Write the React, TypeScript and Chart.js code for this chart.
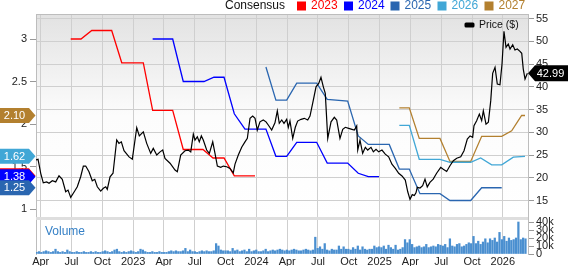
import React, { useEffect, useRef } from 'react';
import { Chart, registerables } from 'chart.js';

Chart.register(...registerables);

const FONT = '"Liberation Sans", Arial, Helvetica, sans-serif';

// x values are months counted from Jan 2022 (0 = 1 Jan 2022)
const xTickMonths = [3, 6, 9, 12, 15, 18, 21, 24, 27, 30, 33, 36, 39, 42, 45, 48];
const xTickLabels = ['Apr', 'Jul', 'Oct', '2023', 'Apr', 'Jul', 'Oct', '2024', 'Apr', 'Jul', 'Oct', '2025', 'Apr', 'Jul', 'Oct', '2026'];
const epsTicks = [1, 1.5, 2, 2.5, 3];
const priceTicks = [15, 20, 25, 30, 35, 40, 45, 50, 55];
const volumeTicks = [0, 10, 20, 30, 40];

const priceMonths = [
  2.51, 2.74, 3.0, 3.25, 3.58, 3.81, 4.13, 4.46, 4.78, 5.1,
  5.43, 5.66, 5.92, 6.31, 6.56, 6.89, 7.15, 7.38, 7.7, 8.02,
  8.26, 8.51, 8.84, 9.1, 9.33, 9.48, 9.75, 10.04, 10.4, 10.62,
  10.85, 11.11, 11.6, 11.92, 12.35, 12.6, 12.99, 13.32, 13.71, 13.96,
  14.3, 14.62, 14.88, 15.1, 15.59, 16.08, 16.3, 16.63, 17.05, 17.37,
  17.61, 17.86, 18.02, 18.25, 18.44, 18.64, 18.83, 19.16, 19.42, 19.75,
  19.97, 20.2, 20.53, 20.78, 21.11, 21.43, 21.75, 21.92, 22.24, 22.57,
  22.89, 23.12, 23.38, 23.64, 23.87, 24.09, 24.35, 24.67, 24.94, 25.16,
  25.49, 25.81, 26.04, 26.23, 26.47, 26.69, 26.95, 27.11, 27.27, 27.54,
  27.79, 28.02, 28.35, 28.67, 29.0, 29.22, 29.48, 29.81, 30.07, 30.29,
  30.52, 30.71, 30.95, 31.27, 31.59, 31.82, 32.14, 32.41, 32.66, 32.99,
  33.31, 33.54, 33.77, 33.87, 34.09, 34.35, 34.61, 34.84, 35.16, 35.39,
  35.65, 35.91, 36.23, 36.55, 36.88, 37.2, 37.53, 37.86, 38.18, 38.5,
  38.74, 38.96, 39.18, 39.38, 39.54, 39.67, 39.93, 40.19, 40.42, 40.64,
  40.9, 41.22, 41.55, 41.95, 42.2, 42.53, 42.85, 43.18, 43.51, 43.9,
  44.22, 44.54, 44.81, 45.06, 45.19, 45.45, 45.71, 45.94, 46.1, 46.36,
  46.59, 46.82, 47.01, 47.24, 47.46, 47.72, 47.92, 48.11, 48.31, 48.53,
  48.7, 48.96, 49.18, 49.41, 49.67, 49.84, 49.99, 50.16, 50.39,
];
const priceValues = [
  23.9, 24.05, 20.98, 18.9, 19.1, 18.8, 19.35, 19.1, 20.45, 19.66,
  16.93, 17.3, 15.7, 17.1, 18.03, 20.23, 22.58, 22.58, 21.33, 19.35,
  19.66, 18.03, 17.09, 17.7, 18.03, 17.46, 20.2, 21.0, 28.3, 27.57,
  27.9, 25.95, 24.6, 24.1, 31.0, 29.2, 30.1, 27.57, 25.37, 26.47,
  25.0, 25.7, 26.1, 24.27, 23.2, 21.7, 21.33, 25.0, 25.95, 26.1,
  25.7, 29.6, 28.3, 29.0, 27.9, 29.2, 28.3, 26.1, 25.37, 27.9,
  25.37, 22.58, 22.3, 22.58, 22.43, 22.07, 21.1, 23.0, 25.0, 26.7,
  27.9, 28.67, 33.07, 33.57, 33.07, 30.5, 32.3, 32.7, 32.3, 31.6,
  30.5, 32.1, 34.7, 31.97, 32.7, 31.97, 32.85, 31.1, 32.5, 28.67,
  31.1, 32.47, 32.85, 33.07, 32.7, 33.57, 36.36, 40.0, 40.76, 42.08,
  40.0, 38.56, 28.67, 32.3, 33.3, 32.7, 28.67, 30.65, 31.1, 30.87,
  30.65, 30.5, 31.4, 26.1, 28.3, 25.37, 26.7, 26.1, 26.7, 25.7,
  26.25, 25.7, 26.1, 25.2, 24.6, 23.0, 22.07, 21.0, 20.4, 19.5,
  16.93, 15.26, 16.3, 16.1, 16.7, 17.9, 17.75, 18.26, 19.7, 18.0,
  19.0, 19.7, 21.0, 22.3, 21.9, 21.4, 22.65, 23.75, 24.3, 24.6,
  25.95, 28.5, 29.2, 28.9, 31.45, 32.55, 34.0, 32.55, 34.74, 31.8,
  32.2, 36.9, 42.95, 44.27, 40.6, 40.45, 45.0, 52.2, 48.67, 49.4,
  48.3, 49.24, 48.08, 48.3, 47.8, 47.35, 43.9, 41.7, 42.99,
];

const eps2023Months = [5.92, 6.92, 7.97, 9.91, 10.89, 12.99, 13.9, 15.85, 16.88, 18.8, 19.78, 20.85, 21.85, 23.87];
const eps2023Values = [3.0, 3.0, 3.1, 3.1, 2.72, 2.72, 2.16, 2.16, 1.7, 1.7, 1.6, 1.6, 1.39, 1.39];

const eps2024Months = [13.9, 15.85, 16.88, 18.9, 19.87, 20.85, 21.85, 22.89, 24.93, 25.9, 26.95, 27.93, 29.87, 30.9, 32.89, 33.92, 34.9, 35.94];
const eps2024Values = [3.0, 3.0, 2.5, 2.5, 2.55, 2.55, 2.12, 1.94, 1.94, 1.62, 1.62, 1.785, 1.785, 1.54, 1.54, 1.42, 1.38, 1.38];

const eps2025Months = [24.93, 25.9, 26.95, 27.93, 29.87, 30.9, 32.89, 33.92, 34.9, 36.94, 37.92, 38.89, 39.93, 41.88, 42.85, 44.87, 45.94, 47.89];
const eps2025Values = [2.67, 2.28, 2.28, 2.48, 2.48, 2.29, 2.27, 1.86, 1.76, 1.76, 1.47, 1.47, 1.18, 1.18, 1.1, 1.1, 1.25, 1.25];

const eps2026Months = [37.92, 38.89, 39.86, 41.88, 42.85, 44.87, 45.84, 46.91, 47.89, 49.02, 50.16];
const eps2026Values = [1.985, 1.985, 1.585, 1.585, 1.55, 1.55, 1.6, 1.52, 1.52, 1.61, 1.62];

const eps2027Months = [37.92, 38.89, 39.86, 41.88, 42.85, 44.87, 45.94, 47.89, 48.86, 49.83, 50.16];
const eps2027Values = [2.19, 2.19, 1.83, 1.83, 1.56, 1.56, 1.855, 1.855, 1.92, 2.1, 2.1];

// weekly volume in thousands, first week at month 2.6
const volumeStartMonth = 2.6;
const volumeWeekMonths = 12 / 52.18;
const volumeValues = [
  2, 3, 2, 3, 4, 3, 2, 3, 6, 3,
  2, 3, 2, 5, 3, 2, 2, 3, 2, 2,
  3, 2, 2, 3, 2, 3, 2, 2, 3, 4,
  3, 2, 3, 5, 6, 3, 2, 3, 2, 3,
  4, 3, 2, 3, 6, 5, 3, 2, 2, 3,
  2, 2, 3, 2, 2, 2, 3, 4, 3, 4,
  3, 3, 4, 7, 3, 5, 3, 3, 2, 3,
  4, 3, 4, 3, 3, 4, 13, 10, 5, 4,
  4, 4, 3, 7, 4, 5, 3, 4, 5, 3,
  6, 3, 4, 5, 3, 3, 4, 6, 3, 4,
  5, 4, 5, 6, 5, 4, 5, 4, 5, 6,
  5, 4, 4, 5, 6, 5, 4, 5, 21, 7,
  9, 6, 13, 5, 4, 6, 5, 5, 10, 6,
  9, 6, 6, 5, 8, 6, 10, 5, 9, 6,
  5, 6, 6, 10, 8, 9, 8, 10, 6, 11,
  8, 6, 11, 5, 6, 8, 18, 14, 18, 12,
  8, 9, 10, 8, 9, 12, 8, 9, 10, 9,
  12, 11, 10, 12, 8, 19, 10, 9, 12, 13,
  9, 10, 12, 14, 13, 22, 13, 16, 12, 15,
  19, 14, 19, 17, 20, 15, 27, 18, 22, 16,
  20, 17, 18, 20, 40, 18, 20, 19,
];

const seriesNames = ['2023', '2024', '2025', '2026', '2027'];
const seriesColors = ['#ff0000', '#0000ff', '#2a66b0', '#41a7d6', '#b3802f'];
const epsMonths = [eps2023Months, eps2024Months, eps2025Months, eps2026Months, eps2027Months];
const epsValues = [eps2023Values, eps2024Values, eps2025Values, eps2026Values, eps2027Values];

const toPoints = (xs: number[], ys: number[]) => xs.map((x, i) => ({ x, y: ys[i] })).filter(p => p.y !== undefined);

const decorPlugin = {
  id: 'decor',
  beforeDraw(chart: any) {
    const { ctx, chartArea } = chart;
    const py = chart.scales.y;
    const g = ctx.createLinearGradient(0, py.top, 0, py.bottom);
    g.addColorStop(0, '#e2e2e2');
    g.addColorStop(0.5, '#fcfcfc');
    g.addColorStop(1, '#ffffff');
    ctx.save();
    ctx.fillStyle = g;
    ctx.fillRect(chartArea.left, py.top, chartArea.right - chartArea.left, py.bottom - py.top);
    ctx.restore();
  },
  afterDraw(chart: any) {
    const { ctx, chartArea } = chart;
    const py = chart.scales.y;
    const ye = chart.scales.ye;
    ctx.save();
    // top border
    ctx.strokeStyle = '#bdbdbd';
    ctx.lineWidth = 1;
    ctx.beginPath();
    ctx.moveTo(chartArea.left, chartArea.top + 0.5);
    ctx.lineTo(chartArea.right, chartArea.top + 0.5);
    ctx.stroke();
    // separator between price and volume panels
    ctx.fillStyle = '#dedede';
    ctx.fillRect(chartArea.left, py.bottom - 1, chartArea.right - chartArea.left, 3);

    // top legend
    ctx.textBaseline = 'middle';
    ctx.textAlign = 'left';
    ctx.font = `12px ${FONT}`;
    ctx.fillStyle = '#111';
    ctx.fillText('Consensus', 225, 6);
    const sqX = [297, 344, 390.5, 437.5, 484.5];
    seriesNames.forEach((n, i) => {
      ctx.fillStyle = seriesColors[i];
      ctx.fillRect(sqX[i], 1.5, 9, 9);
      ctx.fillText(n, sqX[i] + 14, 6);
    });

    // price legend
    ctx.fillStyle = '#000';
    ctx.beginPath();
    ctx.roundRect(464.5, 22.5, 10, 5, 1.5);
    ctx.fill();
    ctx.font = `10.5px ${FONT}`;
    ctx.fillStyle = '#111';
    ctx.fillText('Price ($)', 479, 25.5);

    // volume label
    ctx.font = `12px ${FONT}`;
    ctx.fillStyle = '#3580c6';
    ctx.fillText('Volume', 45, 232);

    // left flags
    ctx.font = `11px ${FONT}`;
    ctx.textAlign = 'center';
    epsValues.forEach((vals, i) => {
      const v = vals[vals.length - 1];
      const y = ye.getPixelForValue(v);
      const h = 15;
      ctx.fillStyle = seriesColors[i];
      ctx.beginPath();
      ctx.moveTo(0, y - h / 2);
      ctx.lineTo(29, y - h / 2);
      ctx.lineTo(35.5, y);
      ctx.lineTo(29, y + h / 2);
      ctx.lineTo(0, y + h / 2);
      ctx.closePath();
      ctx.fill();
      ctx.fillStyle = '#fff';
      ctx.fillText(v.toFixed(2), 14.5, y + 0.5);
    });

    // right price flag
    const last = priceValues[priceValues.length - 1];
    const ry = py.getPixelForValue(last);
    const rx = chartArea.right;
    ctx.fillStyle = '#000';
    ctx.beginPath();
    ctx.moveTo(rx, ry);
    ctx.lineTo(rx + 7, ry - 8);
    ctx.lineTo(568, ry - 8);
    ctx.lineTo(568, ry + 8);
    ctx.lineTo(rx + 7, ry + 8);
    ctx.closePath();
    ctx.fill();
    ctx.fillStyle = '#fff';
    ctx.fillText(last.toFixed(2), 550.5, ry + 0.5);
    ctx.restore();
  },
};

export default function App() {
  const ref = useRef<HTMLCanvasElement>(null);
  useEffect(() => {
    document.body.style.margin = '0';
    Chart.defaults.font.family = FONT;
    const tickFont = { size: 11, family: FONT };
    const datasets: any[] = [
      {
        type: 'line',
        label: 'Price ($)',
        data: toPoints(priceMonths, priceValues),
        borderColor: '#000',
        borderWidth: 1.2,
        pointRadius: 0,
        tension: 0,
        xAxisID: 'x',
        yAxisID: 'y',
      },
      ...seriesNames.map((n, i) => ({
        type: 'line',
        label: n,
        data: toPoints(epsMonths[i], epsValues[i]),
        borderColor: seriesColors[i],
        borderWidth: 1.3,
        pointRadius: 0,
        tension: 0,
        xAxisID: 'x',
        yAxisID: 'ye',
      })),
      {
        type: 'bar',
        label: 'Volume',
        data: volumeValues.map((v, i) => ({ x: volumeStartMonth + i * volumeWeekMonths, y: v })),
        backgroundColor: '#4a8fd0',
        borderWidth: 0,
        barThickness: 1.6,
        xAxisID: 'x',
        yAxisID: 'yv',
      },
    ];
    const chart = new Chart(ref.current as HTMLCanvasElement, {
      type: 'line',
      data: { datasets },
      plugins: [decorPlugin],
      options: {
        responsive: false,
        devicePixelRatio: 1,
        animation: false,
        layout: { padding: { top: 14, left: 0, right: 0, bottom: 0 } },
        plugins: { legend: { display: false }, tooltip: { enabled: false } },
        scales: {
          x: {
            type: 'linear',
            position: 'bottom',
            min: 2.54,
            max: 50.45,
            offset: false,
            grid: { offset: false, color: '#cfcfcf', drawTicks: false },
            border: { display: false },
            afterBuildTicks: (s: any) => { s.ticks = xTickMonths.map(v => ({ value: v })); },
            afterFit: (s: any) => { s.height = 12; },
            ticks: {
              autoSkip: false,
              maxRotation: 0,
              minRotation: 0,
              padding: 1,
              font: tickFont,
              color: '#222',
              callback: (_v: any, i: number) => xTickLabels[i],
            },
          },
          y: {
            type: 'linear',
            position: 'right',
            stack: 'right',
            stackWeight: 204,
            min: 11.165,
            max: 56,
            grid: { color: '#cfcfcf', drawTicks: true, tickLength: 6, tickColor: '#999' },
            border: { color: '#bdbdbd' },
            afterBuildTicks: (s: any) => { s.ticks = priceTicks.map(v => ({ value: v })); },
            afterFit: (s: any) => { s.width = 40; },
            ticks: { autoSkip: false, padding: 2, font: tickFont, color: '#222', callback: (v: any) => String(v) },
          },
          yv: {
            type: 'linear',
            position: 'right',
            stack: 'right',
            stackWeight: 36,
            min: 0,
            max: 45,
            grid: { drawOnChartArea: false, drawTicks: true, tickLength: 6, tickColor: '#999' },
            border: { color: '#bdbdbd' },
            afterBuildTicks: (s: any) => { s.ticks = volumeTicks.map(v => ({ value: v })); },
            afterFit: (s: any) => { s.width = 40; },
            ticks: { autoSkip: false, padding: 2, font: tickFont, color: '#222', callback: (v: any) => (v === 0 ? '0' : `${v}k`) },
          },
          ye: {
            type: 'linear',
            position: 'left',
            min: 0.47059,
            max: 3.29412,
            grid: { drawOnChartArea: false, drawTicks: true, tickLength: 6, tickColor: '#999' },
            border: { color: '#bdbdbd' },
            afterBuildTicks: (s: any) => { s.ticks = epsTicks.map(v => ({ value: v })); },
            afterFit: (s: any) => { s.width = 36; },
            ticks: { autoSkip: false, padding: 3, font: tickFont, color: '#222', callback: (v: any) => String(v) },
          },
        },
      } as any,
    });
    return () => chart.destroy();
  }, []);
  return (
    <div style={{ width: 568, height: 266, position: 'relative' }}>
      <canvas ref={ref} width={568} height={266} style={{ display: 'block' }} />
    </div>
  );
}
